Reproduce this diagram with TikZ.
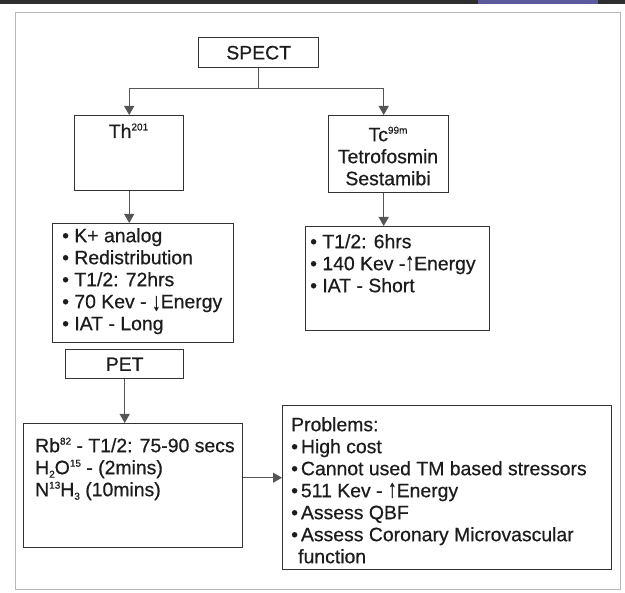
\documentclass[tikz,border=0pt]{standalone}
\usepackage{fontspec}
\setmainfont[UprightFeatures={FakeBold=0.6}]{Liberation Sans}
\usetikzlibrary{arrows.meta}
\definecolor{boxc}{HTML}{333333}
\definecolor{txtc}{HTML}{1C1C1C}
\definecolor{linec}{HTML}{555555}
\definecolor{framec}{HTML}{B8B8B8}
\definecolor{stripc}{HTML}{2E2E2E}
\definecolor{stripv}{HTML}{5C5A9E}
\newcommand\sups[1]{\raisebox{7.5pt}{\fontsize{10}{10}\selectfont #1}}
\newcommand\subs[1]{\raisebox{-3.5pt}{\fontsize{10}{10}\selectfont #1}}
\newcommand\fstrut{\rule{0pt}{16pt}}
\newcommand\uparr{\smash{\scalebox{0.9}[1.3]{↑}}}
\newcommand\dnarr{\smash{\raisebox{-2pt}{\scalebox{0.9}[1.3]{↓}}}}
\begin{document}
\begin{tikzpicture}[x=1pt,y=-1pt,
  box/.style={draw=boxc, line width=1.4pt, inner sep=0pt, anchor=north west},
  txt/.style={inner sep=0pt, text=txtc, font=\fontsize{19.4}{22}\selectfont},
  conn/.style={draw=linec, line width=1.2pt},
  arr/.style={conn, -{Triangle[width=10pt,length=9pt]}}
]
\useasboundingbox (0,0) rectangle (625,593);
% scan strip and frame
\fill[stripc] (0,0) rectangle (625,4);
\fill[stripv] (478,0) rectangle (598,4);
\draw[framec, line width=1pt] (15,13) rectangle (620,590);

% boxes
\node[box, txt, minimum width=120, minimum height=30] (spect) at (198,37) {SPECT};
\node[box, minimum width=109, minimum height=75] (th) at (74,115) {};
\node[box, minimum width=120, minimum height=77] (tc) at (328,115) {};
\node[box, minimum width=181, minimum height=119] (kplus) at (52,223) {};
\node[box, minimum width=184, minimum height=104] (tcl) at (305,226) {};
\node[box, txt, minimum width=118, minimum height=29] (pet) at (65,349) {PET};
\node[box, minimum width=219, minimum height=124] (rb) at (23,423) {};
\node[box, minimum width=329, minimum height=164] (prob) at (282,405) {};

% texts
\node[txt, anchor=base] (thT) at (128.5,138) {Th\sups{201}};
\node[txt, anchor=north, align=center] (tcT) at (388,125)
  {\fstrut Tc\sups{99m}\\Tetrofosmin\\Sestamibi};
\node[txt, anchor=north west, align=left] (kplusT) at (62,226)
  {\fstrut• K+ analog\\• Redistribution\\• T1/2: 72hrs\\• 70 Kev - \dnarr Energy\\• IAT - Long};
\node[txt, anchor=north west, align=left] (tclT) at (310,232)
  {\fstrut• T1/2: 6hrs\\• 140 Kev -\uparr Energy\\• IAT - Short};
\node[txt, anchor=north west, align=left] (rbT) at (35,436)
  {\fstrut Rb\sups{82} - T1/2: 75-90 secs\\H\subs{2}O\sups{15} - (2mins)\\N\sups{13}H\subs{3} (10mins)};
\node[txt, anchor=north west, align=left] (probT) at (291,415)
  {\fstrut Problems:\\•\hspace{3pt}High cost\\•\hspace{3pt}Cannot used TM based stressors\\•\hspace{3pt}511 Kev - \uparr Energy\\•\hspace{3pt}Assess QBF\\•\hspace{3pt}Assess Coronary Microvascular\\\hspace{7pt}function};

% connectors
\draw[conn] (spect.south) -- ++(0,20) coordinate (split);
\draw[arr] (split) -| (th.north);
\draw[arr] (split) -| ([xshift=-5pt]tc.north);
\draw[arr] (th.south) -- (th.south |- kplus.north);
\draw[arr] ([xshift=-5pt]tc.south) -- ([xshift=-5pt]tc.south |- tcl.north);
\draw[arr] (pet.south) -- (pet.south |- rb.north);
\draw[arr] ([yshift=8pt]rb.east) -- ([yshift=8pt]rb.east -| prob.west);
\end{tikzpicture}
\end{document}
